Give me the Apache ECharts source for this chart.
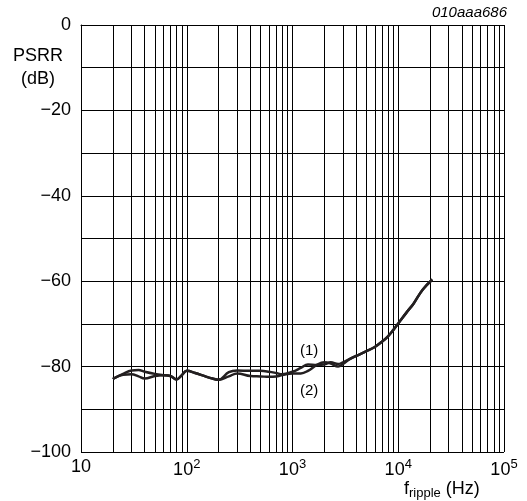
<!DOCTYPE html>
<html><head><meta charset="utf-8">
<script src="https://cdn.jsdelivr.net/npm/echarts@6/dist/echarts.min.js"></script>
<style>html,body{margin:0;padding:0;background:#fff}#c{width:527px;height:501px}</style>
</head><body><div id="c"></div>
<script>
const freq  = [20, 25, 30, 35, 40, 50, 60, 70, 80, 90, 100, 120, 150, 175, 200, 250, 300, 400, 500, 600, 700, 800, 1000, 1200, 1400, 1700, 2000, 2300, 2700, 3000, 3500, 4000, 5000, 6000, 7000, 8000, 9000, 10000, 12000, 14000, 17000, 21000];
const psrr1 = [-82.9, -81.7, -80.9, -80.8, -81.2, -81.7, -82.0, -82.2, -83.0, -82.0, -81.0, -81.5, -82.3, -82.8, -83.1, -81.3, -80.9, -81.0, -81.0, -81.2, -81.5, -81.8, -81.2, -80.3, -79.5, -79.6, -79.5, -79.0, -79.4, -79.0, -78.2, -77.5, -76.4, -75.4, -74.2, -72.9, -71.4, -69.9, -67.3, -65.2, -62.0, -59.6];
const psrr2 = [-82.9, -81.9, -81.8, -82.3, -82.8, -82.2, -82.0, -82.2, -83.0, -82.0, -81.0, -81.5, -82.3, -82.8, -83.1, -82.3, -81.6, -82.2, -82.3, -82.4, -82.3, -82.0, -81.6, -81.6, -81.0, -79.6, -79.0, -79.3, -80.0, -79.4, -78.2, -77.5, -76.4, -75.4, -74.2, -72.9, -71.4, -69.9, -67.3, -65.2, -62.0, -59.6];
const minorFreqs = [20,30,40,50,60,70,80,90,200,300,400,500,600,700,800,900,2000,3000,4000,5000,6000,7000,8000,9000,20000,30000,40000,50000,60000,70000,80000,90000];
const yTicks = [0, -20, -40, -60, -80, -100];
const seriesLabels = ['(1)', '(2)'];
const FONT = '"Liberation Sans", Arial, sans-serif';
const chart = echarts.init(document.getElementById('c'));
const lineColor = '#231f20';
chart.setOption({
  animation: false,
  grid: {left: 81, right: 23, top: 25, bottom: 49},
  xAxis: {
    type: 'log', logBase: 10, min: 10, max: 100000,
    axisLine: {show: true, lineStyle: {color: '#000', width: 1}},
    axisTick: {show: false},
    splitLine: {show: true, lineStyle: {color: '#000', width: 1}},
    axisLabel: {
      margin: 6, color: '#000', fontFamily: FONT, fontSize: 18,
      formatter: v => { const e = Math.round(Math.log10(v)); return e === 1 ? '10' : '10{sup|' + e + '}'; },
      rich: {sup: {fontSize: 13, fontFamily: FONT, color: '#000', padding: [0, 0, 11, 0]}}
    }
  },
  yAxis: {
    type: 'value', min: -100, max: 0, interval: 10,
    axisLine: {show: true, lineStyle: {color: '#000', width: 1}},
    axisTick: {show: false},
    splitLine: {show: true, lineStyle: {color: '#000', width: 1}},
    axisLabel: {
      margin: 10, color: '#000', fontFamily: FONT, fontSize: 18,
      formatter: v => yTicks.indexOf(v) >= 0 ? String(v).replace('-', '\u2212') : ''
    }
  },
  series: [
    {type: 'line', data: freq.map((f, i) => [f, psrr1[i]]), smooth: 0.4, symbol: 'none',
     lineStyle: {color: lineColor, width: 2.5}, z: 5,
     markLine: {silent: true, symbol: 'none', label: {show: false},
       lineStyle: {color: '#000', width: 1, type: 'solid'},
       data: minorFreqs.map(f => ({xAxis: f}))}},
    {type: 'line', data: freq.map((f, i) => [f, psrr2[i]]), smooth: 0.4, symbol: 'none',
     lineStyle: {color: lineColor, width: 2.5}, z: 5}
  ],
  graphic: [
    {type: 'text', left: 13, top: 47, style: {text: 'PSRR', font: '18px ' + FONT, fill: '#000'}},
    {type: 'text', left: 21, top: 70, style: {text: '(dB)', font: '18px ' + FONT, fill: '#000'}},
    {type: 'text', right: 20, top: 5, style: {text: '010aaa686', font: 'italic 15px ' + FONT, fill: '#000'}},
    {type: 'text', left: 300, top: 343, style: {text: seriesLabels[0], font: '15px ' + FONT, fill: '#000'}},
    {type: 'text', left: 300, top: 383, style: {text: seriesLabels[1], font: '15px ' + FONT, fill: '#000'}},
    {type: 'text', left: 404, top: 480, style: {
      text: '{b|f}{s|ripple}{b| (Hz)}',
      rich: {b: {font: '18px ' + FONT, fill: '#000'}, s: {font: '13px ' + FONT, fill: '#000', padding: [9, 0, 0, 0]}}
    }}
  ]
});
</script></body></html>
